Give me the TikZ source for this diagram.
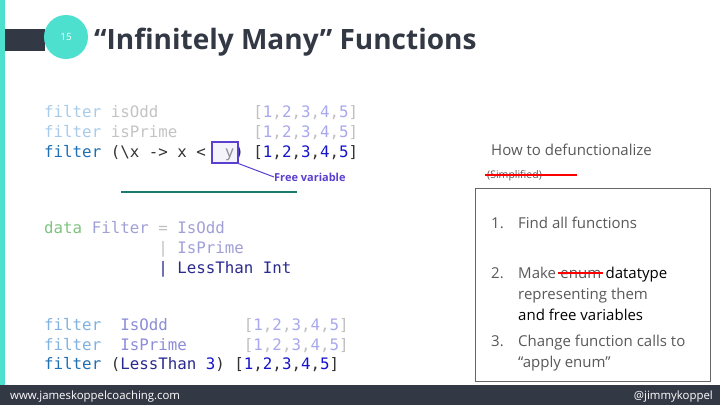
\documentclass[tikz,border=0pt]{standalone}
\usepackage{fontspec}
\setmainfont{Open Sans}
\setmonofont{DejaVu Sans Mono}
\usepackage{xcolor}
\definecolor{teal1}{HTML}{4DE0CF}
\definecolor{dark}{HTML}{333845}
\definecolor{kwS}{HTML}{1F6FB5}
\definecolor{kwF}{HTML}{A9CBEA}
\definecolor{kwM}{HTML}{80B2E2}
\definecolor{idF}{HTML}{C4C4C4}
\definecolor{numF}{HTML}{A8A8EE}
\definecolor{numS}{HTML}{1414CC}
\definecolor{brF}{HTML}{C0C0C0}
\definecolor{brS}{HTML}{333333}
\definecolor{grn}{HTML}{80C480}
\definecolor{conF}{HTML}{A0A0D8}
\definecolor{conM}{HTML}{8C8CD8}
\definecolor{conS}{HTML}{2A2A90}
\definecolor{purp}{HTML}{5B3FCF}
\definecolor{txtg}{HTML}{595959}
\definecolor{rule}{HTML}{1A7A6E}
\newcommand{\fainlist}{\textcolor{brF}{[}\textcolor{numF}{1}\textcolor{brF}{,}\textcolor{numF}{2}\textcolor{brF}{,}\textcolor{numF}{3}\textcolor{brF}{,}\textcolor{numF}{4}\textcolor{brF}{,}\textcolor{numF}{5}\textcolor{brF}{]}}
\newcommand{\strlist}{\textcolor{brS}{[}\textcolor{numS}{1}\textcolor{brS}{,}\textcolor{numS}{2}\textcolor{brS}{,}\textcolor{numS}{3}\textcolor{brS}{,}\textcolor{numS}{4}\textcolor{brS}{,}\textcolor{numS}{5}\textcolor{brS}{]}}
\tikzset{code/.style={anchor=base west,inner sep=0pt,font=\ttfamily\fontsize{15.8}{20}\selectfont},
 rtxt/.style={anchor=base west,inner sep=0pt,text=txtg,font=\fontsize{15}{18}\selectfont},
 strike/.style={red,line width=2.5pt}}
\begin{document}
\begin{tikzpicture}[x=1pt,y=-1pt]
\useasboundingbox (0,0) rectangle (720,405);
\fill[white] (0,0) rectangle (720,405);
\fill[teal1] (0,0) rectangle (5,385);
\fill[dark] (5,29) rectangle (45,51);
\fill[teal1] (66,37) circle (22);
\node[text=white,font=\fontsize{10}{12}\selectfont] (num) at (66,37) {15};
\node[anchor=base west,inner sep=0pt,text=dark,font=\bfseries\fontsize{28}{31}\selectfont] (title) at (94,49) {“Infinitely Many” Functions};
% code block 1
\node[code] (l1) at (44,117) {\textcolor{kwF}{filter} \textcolor{idF}{isOdd}\phantom{xxxxxxxxxx}\fainlist};
\node[code] (l2) at (44,137) {\textcolor{kwF}{filter} \textcolor{idF}{isPrime}\phantom{xxxxxxxx}\fainlist};
\node[code] (l3) at (44,157) {\textcolor{kwS}{filter} \textcolor{brS}{(\textbackslash x -> x <\ \ y) }\strlist};
\node[draw=purp,line width=1.2pt,fill=purp!12,fill opacity=0.5,minimum width=26,minimum height=21,inner sep=0pt] (ybox) at (225,152.5) {};
\node[anchor=west,inner sep=0pt,text=purp,font=\bfseries\fontsize{11}{13}\selectfont] (fv) at (274,177) {Free variable};
\draw[purp,line width=1pt] (ybox.south east) -- (fv.west);
\draw[rule,line width=1.5pt] (121,192) -- (297,192);
% data block
\node[code] (d1) at (44,233) {\textcolor{grn}{data} \textcolor{conF}{Filter} \textcolor{brF}{=} \textcolor{conF}{IsOdd}};
\node[code] (d2) at (44,253) {\phantom{data Filter }\textcolor{brF}{|} \textcolor{conF}{IsPrime}};
\node[code] (d3) at (44,273) {\phantom{data Filter }\textcolor{conS}{| LessThan Int}};
% bottom block
\node[code] (b1) at (44,330) {\textcolor{kwM}{filter}\ \ \textcolor{conM}{IsOdd}\phantom{xxxxxxxx}\fainlist};
\node[code] (b2) at (44,350) {\textcolor{kwM}{filter}\ \ \textcolor{conM}{IsPrime}\phantom{xxxxxx}\fainlist};
\node[code] (b3) at (44,369) {\textcolor{kwS}{filter} \textcolor{brS}{(}\textcolor{conS}{LessThan} \textcolor{numS}{3}\textcolor{brS}{) }\strlist};
% right side
\node[rtxt,font=\fontsize{15}{18}\selectfont] (how) at (491,155) {How to defunctionalize};
\node[rtxt,font=\fontsize{10.5}{12}\selectfont] (simp) at (487,178) {(Simplified)};
\draw[strike] (485,175) -- (577,175);
\draw[gray!80!black,line width=0.8pt] (475,188) rectangle (710,381);
\node[rtxt] (n1) at (491,228) {1.};
\node[rtxt] (t1) at (518,228) {Find all functions};
\node[rtxt] (n2) at (491,278) {2.};
\node[rtxt] (t2) at (518,278) {Make};
\node[rtxt] (t2e) at ([xshift=4pt]t2.base east) {enum};
\node[rtxt,text=black] (t2d) at ([xshift=4pt]t2e.base east) {datatype};
\draw[strike] ([xshift=-2pt,yshift=5pt]t2e.base west) -- ([xshift=2pt,yshift=5pt]t2e.base east);
\node[rtxt] (t2b) at (518,299) {representing them};
\node[rtxt,text=black] (t2c) at (518,320) {and free variables};
\node[rtxt] (n3) at (491,346) {3.};
\node[rtxt] (t3) at (518,346) {Change function calls to};
\node[rtxt] (t3b) at (518,367) {“apply enum”};
% footer
\fill[dark] (0,385) rectangle (720,405);
\node[anchor=base west,inner sep=0pt,text=white,font=\fontsize{11.4}{13}\selectfont] (web) at (10,399) {www.jameskoppelcoaching.com};
\node[anchor=base east,inner sep=0pt,text=white,font=\fontsize{11.4}{13}\selectfont] (tw) at (713,399) {@jimmykoppel};
\end{tikzpicture}
\end{document}
